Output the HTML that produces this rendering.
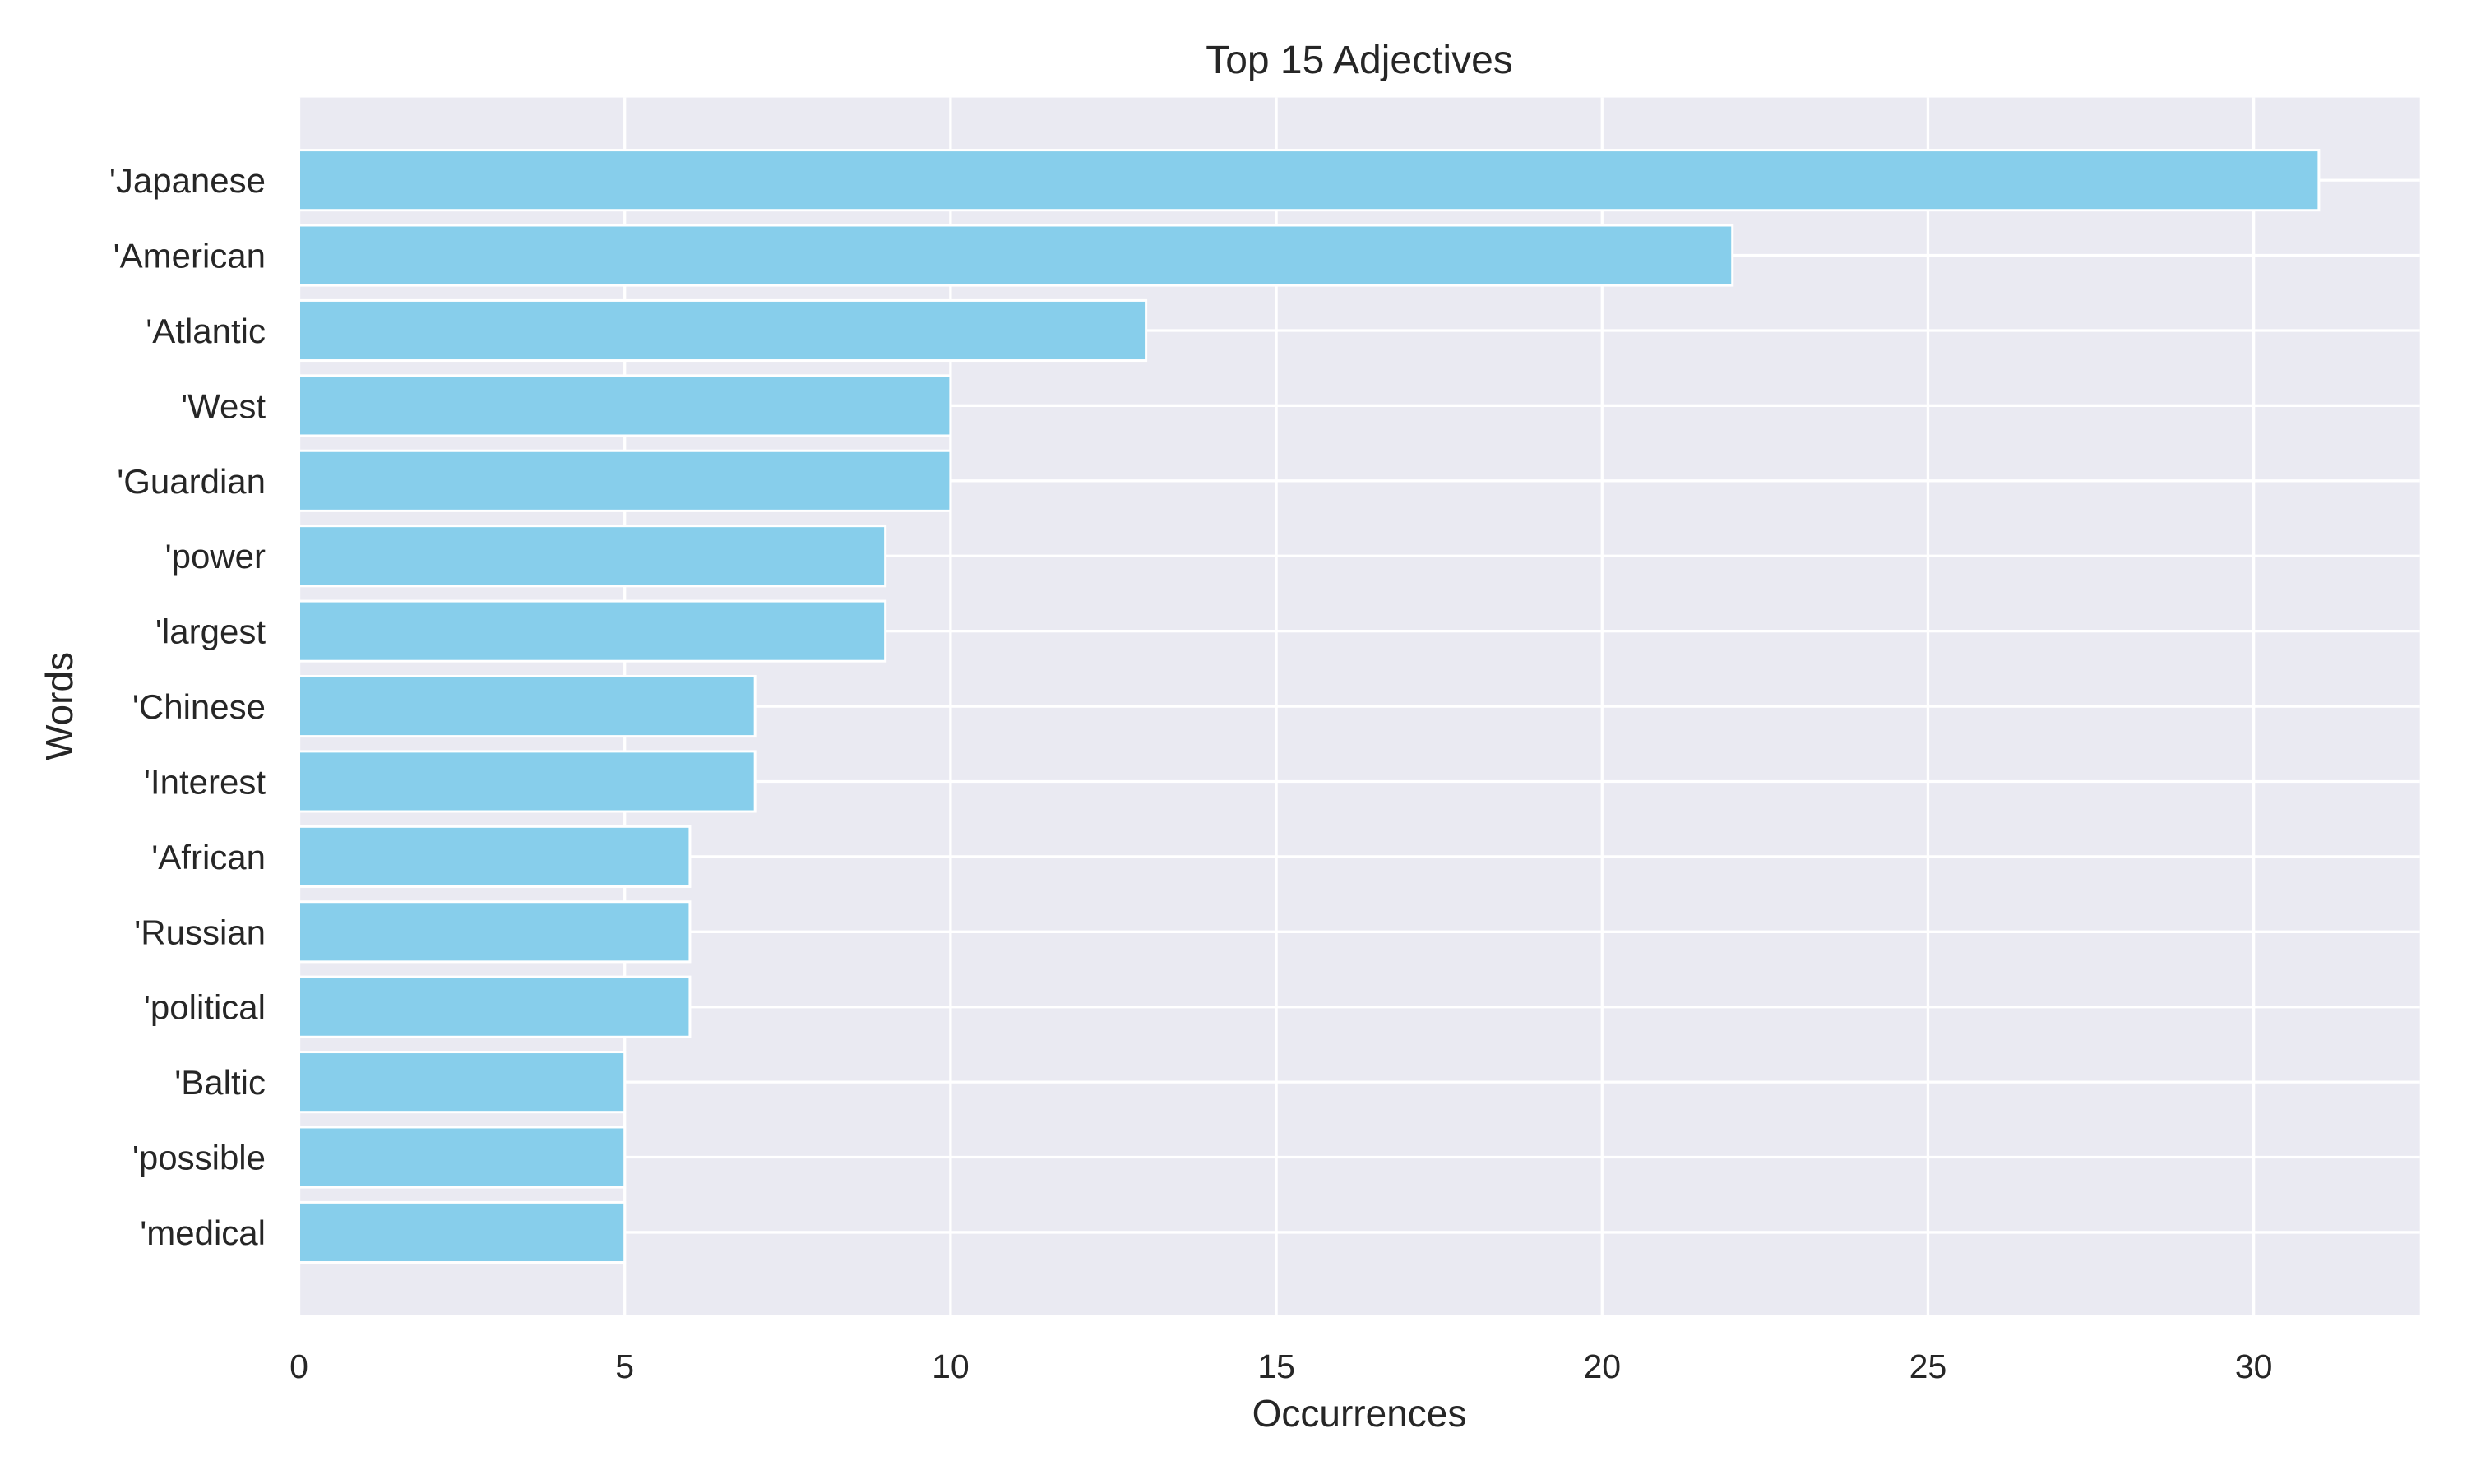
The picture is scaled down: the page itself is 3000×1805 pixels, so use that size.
<!DOCTYPE html>
<html><head><meta charset="utf-8"><style>
html,body{margin:0;padding:0;background:#fff;}
svg text{font-family:"Liberation Sans","DejaVu Sans",sans-serif;fill:#262626;}
</style></head><body>
<svg id="chart" width="3000" height="1800" viewBox="0 0 3000 1800" xmlns="http://www.w3.org/2000/svg">
<rect x="363.5" y="118.6" width="2579.2" height="1481" fill="#EAEAF2"/>
<g id="grid"></g>
<g id="bars"></g>
<g id="xticks"></g>
<g id="yticks"></g>
<text x="1653" y="89" font-size="48" text-anchor="middle">Top 15 Adjectives</text>
<text x="1653" y="1735" font-size="46" text-anchor="middle">Occurrences</text>
<text x="0" y="0" font-size="46" text-anchor="middle" transform="translate(88,859) rotate(-90)">Words</text>
</svg>
<script>
const categories = ["'Japanese","'American","'Atlantic","'West","'Guardian","'power","'largest","'Chinese","'Interest","'African","'Russian","'political","'Baltic","'possible","'medical"];
const values = [31,22,13,10,10,9,9,7,7,6,6,6,5,5,5];
const xTicks = [0,5,10,15,20,25,30];

const L=363.5,R=2942.7,T=118.6,B=1599.5;
const xmax=Math.max(...values)*1.05;
const xs=v=>L+(v/xmax)*(R-L);
const n=categories.length;
const ymin=-1.1,ymax=n-1+1.1;
const ys=i=>T+((i-ymin)/(ymax-ymin))*(B-T);
const NS="http://www.w3.org/2000/svg";
const grid=document.getElementById('grid'),bars=document.getElementById('bars'),xt=document.getElementById('xticks'),yt=document.getElementById('yticks');
function mk(tag,attrs,parent){const e=document.createElementNS(NS,tag);for(const k in attrs)e.setAttribute(k,attrs[k]);parent.appendChild(e);return e;}
xTicks.forEach(t=>{
  const l=mk('line',{x1:xs(t),x2:xs(t),y1:T,y2:B,stroke:'#fff','stroke-width':3.3},grid);
  
  
  const tx=mk('text',{x:xs(t),y:1676,'font-size':41,'text-anchor':'middle'},xt);
  tx.textContent=t;
  
  
});
categories.forEach((c,i)=>{
  const y=ys(i);
  const l=mk('line',{x1:L,x2:R,y1:y,y2:y,stroke:'#fff','stroke-width':3.3},grid);
  
  
  const bh=(B-T)/(ymax-ymin)*0.8;
  const r=mk('rect',{x:xs(0),y:y-bh/2,width:xs(values[i])-xs(0),height:bh,fill:'#87CEEB',stroke:'#fff','stroke-width':3},bars);
  
  
  const tx=mk('text',{x:323,y:y+15,'font-size':42,'text-anchor':'end'},yt);
  tx.textContent=c;
  
  
});
</script>
</body></html>
